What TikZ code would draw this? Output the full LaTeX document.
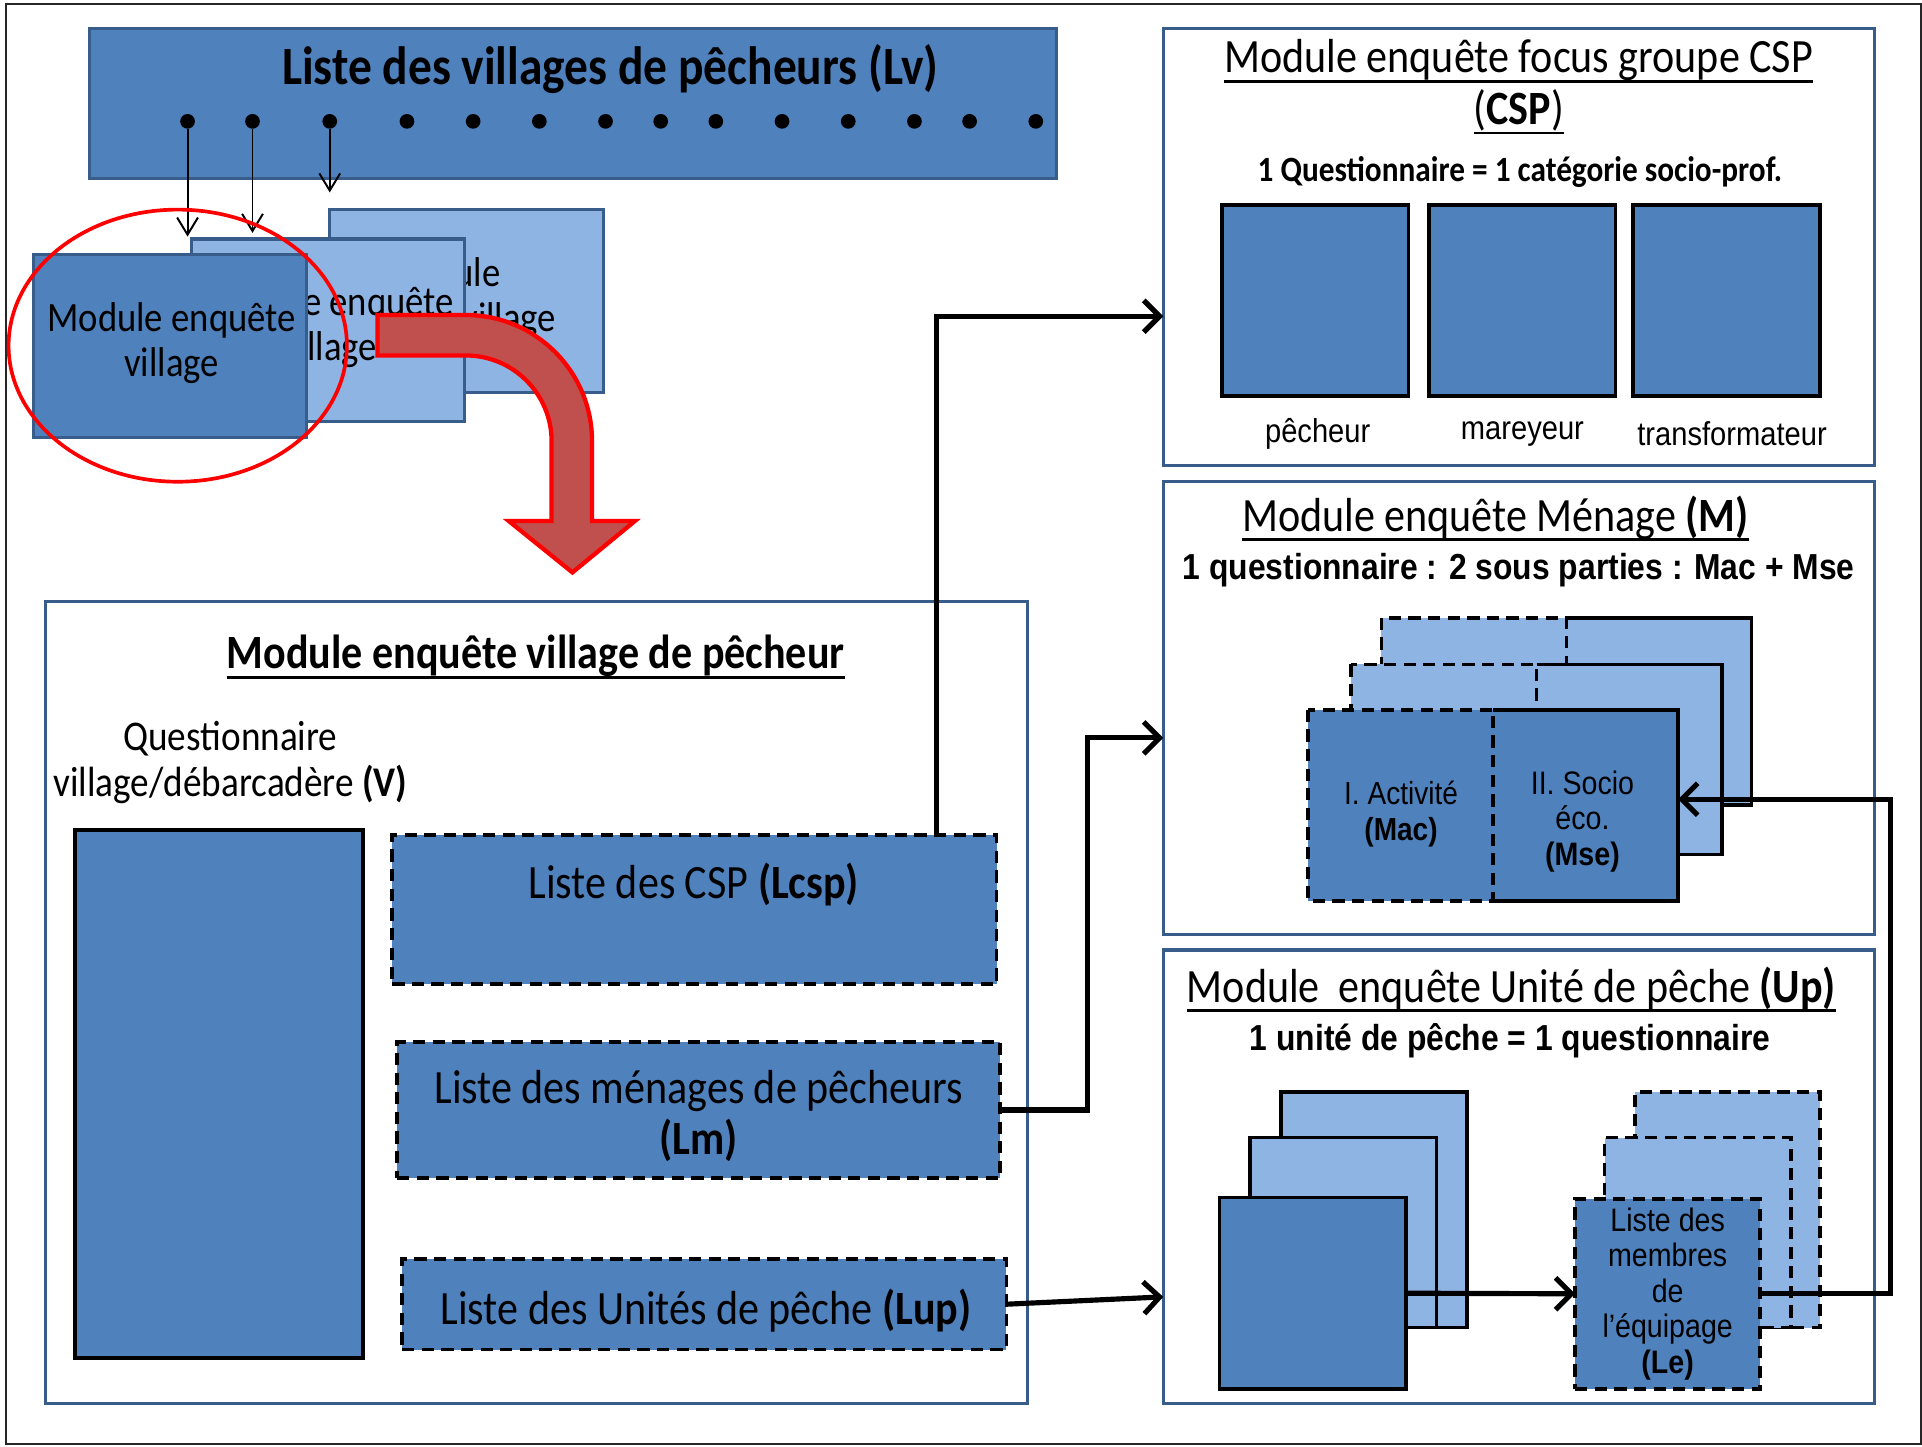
\documentclass[tikz,border=0pt]{standalone}
\usepackage{fontspec}
\setmainfont{Carlito}[FakeStretch=0.88]
\newfontfamily\arialn{Liberation Sans}[FakeStretch=0.88]
\usetikzlibrary{arrows.meta,shapes.geometric}
\newcommand\undl[1]{\setbox0\hbox{#1}\rlap{\rule[-8pt]{\wd0}{2.2pt}}\box0}
\newcommand\fsz[2]{\fontsize{#1}{#2}\selectfont}
\definecolor{dblue}{HTML}{4F81BD}
\definecolor{lblue}{HTML}{8EB4E3}
\definecolor{bdr}{HTML}{385D8A}
\definecolor{rfill}{HTML}{C0504D}
\tikzset{
  box/.style={anchor=north west, inner sep=0pt, outer sep=0pt},
  lvbox/.style={box, fill=dblue, draw=bdr, line width=2.5},
  lcard/.style={box, fill=lblue, draw=bdr, line width=2.5},
  dcard/.style={box, fill=dblue, draw=bdr, line width=2.5},
  frame/.style={box, draw=bdr, line width=2.5, fill=white},
  qbox/.style={box, fill=dblue, draw=black, line width=3},
  qlight/.style={box, fill=lblue, draw=black, line width=3},
  dashbox/.style={box, fill=dblue, draw=black, line width=3, dash pattern=on 10pt off 6pt},
  dashlight/.style={dashbox, fill=lblue},
  dashbd/.style={draw=black, line width=3, dash pattern=on 10pt off 6pt},
  solidbd/.style={draw=black, line width=3},
  conn/.style={line width=4.2, -{Straight Barb[length=13,width=26]}},
  thinarr/.style={line width=1.6, -{Straight Barb[length=14,width=17]}},
  txt/.style={inner sep=0pt, yshift=-3pt, align=center},
  ttl/.style={txt, font=\fsz{39}{42}},
  cal/.style={txt, font=\fsz{34}{37}},
  lst/.style={txt, font=\fsz{39}{42}},
  ari/.style={txt, font=\arialn\fsz{27}{29}},
  arib/.style={txt, font=\arialn\bfseries\fsz{29.5}{32}},
}
\begin{document}
\begin{tikzpicture}[x=1pt,y=-1pt]
\useasboundingbox (0,0) rectangle (1568,1180);
\draw[line width=1.5, black!85] (5,3) rectangle (1567,1178);

% ---- list of villages
\node[lvbox, minimum width=789, minimum height=123] (lv) at (73,23) {};
\node[txt, font=\fsz{44}{47}\bfseries] (lvt) at (498,53) {Liste des villages de pêcheurs (Lv)};
\foreach \x [count=\i] in {153,206,269,332,386,440,494,539,584,638,692,746,791,845}
  \node[circle, fill=black, inner sep=0pt, minimum size=12] (d\i) at (\x,99) {};

% ---- stacked village modules
\node[lcard, minimum width=223, minimum height=149] (vb) at (269,171) {};
\node[cal] (vbt) at (361,240) {Module\\enquête village};
\node[lcard, minimum width=223, minimum height=149] (vm) at (156,195) {};
\node[cal] (vmt) at (269,264) {Module enquête\\village};
\node[dcard, minimum width=223, minimum height=149] (vf) at (27,208) {};
\node[cal] (vft) at (140,277) {Module enquête\\village};

\coordinate (a1) at (153,193);
\coordinate (a2) at (206,190);
\coordinate (a3) at (269,157);
\draw[thinarr] (d1.south) -- (a1);
\draw[thinarr] (d2.south) -- (a2);
\draw[thinarr] (d3.south) -- (a3);

\node[draw=red, ellipse, line width=3, minimum width=276, minimum height=222, inner sep=0pt] (circ) at (145,282) {};

% ---- red bent arrow
\draw[fill=rfill, draw=red, line width=3.5, line join=miter]
  (308,257) -- (380,257) arc[start angle=-90, end angle=0, radius=103]
  -- (483,425) -- (518,425) -- (467,467) -- (415,425) -- (450,425) -- (450,360)
  arc[start angle=0, end angle=-90, radius=70] -- (308,290) -- cycle;

% ---- village module frame
\node[frame, minimum width=801, minimum height=654] (vill) at (37,491) {};
\node[ttl, font=\fsz{39}{42}\bfseries] (villt) at (437,533) {\undl{Module enquête village de pêcheur}};
\node[cal, font=\fsz{34.5}{37}] (qvt) at (188,619) {Questionnaire\\village/débarcadère \textbf{(V)}};
\node[qbox, minimum width=235, minimum height=431] (vq) at (61,677) {};
\node[dashbox, minimum width=493, minimum height=122] (lcsp) at (320,681) {};
\node[lst] (lcspt) at (566,719) {Liste des CSP \textbf{(Lcsp)}};
\node[dashbox, minimum width=492, minimum height=111] (lm) at (324,850) {};
\node[lst, yshift=-2pt] (lmt) at (lm.center) {Liste des ménages de pêcheurs\\\textbf{(Lm)}};
\node[dashbox, minimum width=493, minimum height=74] (lup) at (328,1027) {};
\node[lst] (lupt) at (576,1066) {Liste des Unités de pêche \textbf{(Lup)}};

% ---- CSP module
\node[frame, minimum width=580, minimum height=357] (csp) at (949,23) {};
\node[ttl] (cspt) at (1239,68) {\undl{Module enquête focus groupe CSP}\\\undl{(\textbf{CSP})}};
\node[txt, font=\fsz{29}{31}\bfseries] (cspst) at (1240,137) {1 Questionnaire = 1 catégorie socio-prof.};
\node[qbox, minimum width=152, minimum height=156] (c1) at (997,167) {};
\node[qbox, minimum width=152, minimum height=156] (c2) at (1166,167) {};
\node[qbox, minimum width=153, minimum height=156] (c3) at (1332,167) {};
\node[ari] (c1t) at (1075,351) {pêcheur};
\node[ari] (c2t) at (1242,351) {mareyeur};
\node[ari] (c3t) at (1413,351) {transformateur};

% ---- household module
\node[frame, minimum width=580, minimum height=369] (mm) at (949,393) {};
\node[ttl] (mmt) at (1220,420) {\undl{Module enquête Ménage \textbf{(M)}}};
\node[arib] (mmst) at (1239,462) {1 questionnaire : 2 sous parties : Mac + Mse};
\node[box, fill=lblue, minimum width=302, minimum height=153] (mb) at (1127,504) {};
\draw[dashbd] (mb.north west) rectangle (mb.south);
\draw[solidbd] (mb.north) -- (mb.north east) -- (mb.south east) -- (mb.south);
\node[box, fill=lblue, minimum width=303, minimum height=155] (mmid) at (1102,542) {};
\draw[dashbd] (mmid.north west) rectangle (mmid.south);
\draw[solidbd] (mmid.north) -- (mmid.north east) -- (mmid.south east) -- (mmid.south);
\node[box, fill=dblue, minimum width=302, minimum height=156] (mf) at (1067,579) {};
\draw[solidbd] (mf.north) -- (mf.north east) -- (mf.south east) -- (mf.south);
\draw[dashbd] (mf.north west) rectangle (mf.south);
\node[ari, font=\arialn\fsz{26}{29}] (mact) at (1143,661) {I. Activité\\\textbf{(Mac)}};
\node[ari, font=\arialn\fsz{26.5}{29}] (mset) at (1291,667) {II. Socio\\éco.\\\textbf{(Mse)}};

% ---- fishing unit module
\node[frame, minimum width=580, minimum height=370] (up) at (949,775) {};
\node[ttl] (upt) at (1233,804) {\undl{Module\ \ enquête Unité de pêche \textbf{(Up)}}};
\node[arib] (upst) at (1232,846) {1 unité de pêche = 1 questionnaire};
\node[qlight, minimum width=152, minimum height=192] (ub) at (1045,891) {};
\node[qlight, minimum width=152, minimum height=155] (um) at (1020,928) {};
\node[qbox, minimum width=152, minimum height=156] (uf) at (995,977) {};
\node[dashlight, minimum width=151, minimum height=192] (lb) at (1334,891) {};
\node[dashlight, minimum width=152, minimum height=155] (lmid) at (1309,928) {};
\node[dashbox, minimum width=151, minimum height=155] (le) at (1285,978) {};
\node[ari, font=\arialn\fsz{26.5}{29}, yshift=3pt] (let) at (le.center) {Liste des\\membres\\de\\l’équipage\\\textbf{(Le)}};

% ---- connectors
\coordinate (k1) at (764,0);
\coordinate (k2) at (0,258);
\coordinate (k3) at (887,0);
\coordinate (k4) at (0,602);
\coordinate (k5) at (0,1058);
\coordinate (k6) at (1542,0);
\coordinate (k7) at (0,652);
\draw[conn] (lcsp.north -| k1) |- (csp.west |- k2);
\draw[conn] (lm.east) -- (lm.east -| k3) |- (mm.west |- k4);
\draw[conn] (lup.east) -- (up.west |- k5);
\draw[conn] (uf.east) -- (le.west);
\draw[conn] (le.east) -- (le.east -| k6) |- (mf.east |- k7);
\end{tikzpicture}
\end{document}
